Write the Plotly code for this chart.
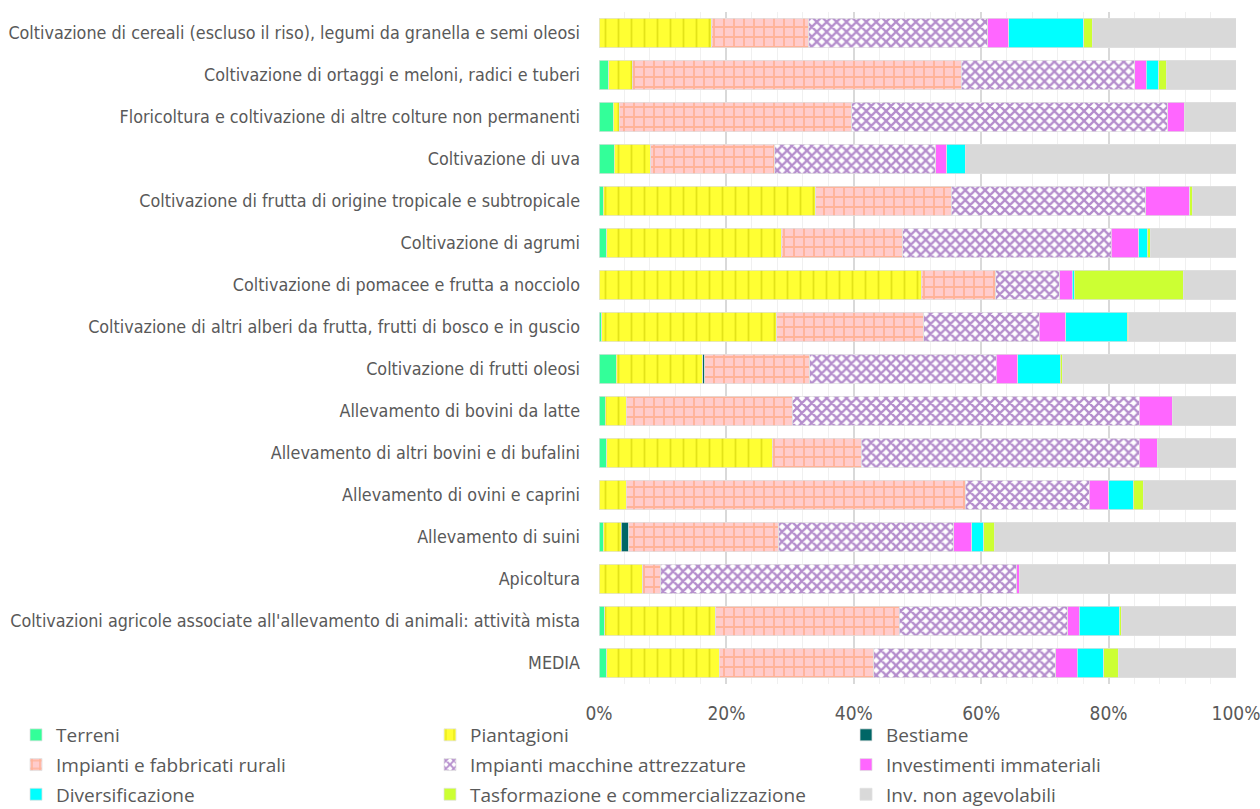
import plotly.graph_objects as go

# Settori (dall'alto verso il basso)
categorie = [
    "Coltivazione di cereali (escluso il riso), legumi da granella e semi oleosi",
    "Coltivazione di ortaggi e meloni, radici e tuberi",
    "Floricoltura e coltivazione di altre colture non permanenti",
    "Coltivazione di uva",
    "Coltivazione di frutta di origine tropicale e subtropicale",
    "Coltivazione di agrumi",
    "Coltivazione di pomacee e frutta a nocciolo",
    "Coltivazione di altri alberi da frutta, frutti di bosco e in guscio",
    "Coltivazione di frutti oleosi",
    "Allevamento di bovini da latte",
    "Allevamento di altri bovini e di bufalini",
    "Allevamento di ovini e caprini",
    "Allevamento di suini",
    "Apicoltura",
    "Coltivazioni agricole associate all'allevamento di animali: attività mista",
    "MEDIA",
]

# Quote percentuali per tipologia di investimento
terreni = [0.0, 1.5, 2.2, 2.4, 0.7, 1.2, 0.0, 0.4, 2.7, 1.0, 1.2, 0.0, 0.7, 0.0, 0.9, 1.2]
piantagioni = [17.7, 3.7, 1.0, 5.7, 33.3, 27.5, 50.6, 27.5, 13.6, 3.3, 26.0, 4.3, 2.8, 6.9, 17.4, 17.7]
bestiame = [0.0, 0.0, 0.0, 0.0, 0.0, 0.0, 0.0, 0.0, 0.3, 0.0, 0.0, 0.0, 1.2, 0.0, 0.0, 0.0]
fabbricati = [15.2, 51.7, 36.5, 19.5, 21.3, 19.0, 11.7, 23.1, 16.5, 26.0, 14.0, 53.2, 23.5, 2.8, 28.8, 24.2]
macchine = [28.1, 27.2, 49.6, 25.3, 30.5, 32.7, 10.0, 18.1, 29.3, 54.5, 43.6, 19.5, 27.5, 55.9, 26.5, 28.6]
immateriali = [3.3, 1.8, 2.6, 1.7, 6.9, 4.3, 2.0, 4.2, 3.3, 5.2, 2.9, 3.0, 2.8, 0.4, 1.8, 3.4]
diversificazione = [11.8, 2.0, 0.0, 2.9, 0.0, 1.4, 0.3, 9.6, 6.7, 0.0, 0.0, 3.9, 1.9, 0.0, 6.3, 4.1]
trasformazione = [1.3, 1.2, 0.0, 0.0, 0.5, 0.4, 17.1, 0.3, 0.3, 0.0, 0.0, 1.5, 1.7, 0.0, 0.3, 2.3]
non_agevolabili = [22.6, 10.9, 8.1, 42.5, 6.8, 13.5, 8.3, 16.8, 27.3, 10.0, 12.3, 14.6, 37.9, 34.0, 18.0, 18.5]

TEXT = "#595959"
LABEL_FONT = "Liberation Sans Narrow, DejaVu Sans Condensed, Arial Narrow, sans-serif"
LEGEND_FONT = "Open Sans, Noto Sans, sans-serif"

# (nome, valori, colore, motivo, colore motivo, dimensione, densità, legenda)
serie = [
    ("Terreni", terreni, "#33FF99", "", None, 0, 0, "legend"),
    ("Piantagioni", piantagioni, "#FFFF33", "|", "#C8C800", 13, 0.14, "legend2"),
    ("Bestiame", bestiame, "#006666", "", None, 0, 0, "legend3"),
    ("Impianti e fabbricati rurali", fabbricati, "#FFCCCC", "+", "#FF9966", 10, 0.34, "legend"),
    ("Impianti macchine attrezzature", macchine, "#FFFFFF", "x", "#6A1B9A", 7, 0.55, "legend2"),
    ("Investimenti immateriali", immateriali, "#FF66FF", "", None, 0, 0, "legend3"),
    ("Diversificazione", diversificazione, "#00FFFF", "", None, 0, 0, "legend"),
    ("Tasformazione e commercializzazione", trasformazione, "#CCFF33", "", None, 0, 0, "legend2"),
    ("Inv. non agevolabili", non_agevolabili, "#D9D9D9", "", None, 0, 0, "legend3"),
]

fig = go.Figure()
for nome, valori, colore, motivo, fg, dim, dens, leg in serie:
    pattern = dict(shape=motivo)
    if motivo:
        pattern.update(fgcolor=fg, bgcolor=colore, fillmode="overlay",
                       size=dim, solidity=dens)
    fig.add_trace(go.Bar(
        name=nome,
        y=categorie,
        x=valori,
        orientation="h",
        marker=dict(color=colore, pattern=pattern,
                    line=dict(color="#E0E0E0", width=0.75)),
        legend=leg,
        legendgroup=nome,
        hoverinfo="skip",
    ))

legend_common = dict(
    orientation="v",
    xref="container", yref="container",
    xanchor="left", yanchor="top",
    y=1 - 716 / 809,
    font=dict(family=LEGEND_FONT, size=19, color=TEXT),
    bgcolor="rgba(0,0,0,0)",
    tracegroupgap=2,
    itemclick=False,
    itemdoubleclick=False,
)

fig.update_layout(
    width=1260,
    height=809,
    barmode="stack",
    bargap=0.3,
    plot_bgcolor="white",
    paper_bgcolor="white",
    margin=dict(l=599, r=24, t=12, b=125, autoexpand=False),
    xaxis=dict(
        range=[0, 100],
        dtick=20,
        ticksuffix="%",
        showgrid=True,
        gridcolor="#D9D9D9",
        gridwidth=1.5,
        zeroline=False,
        showline=False,
        automargin=False,
        minor=dict(dtick=4, showgrid=True, gridcolor="#F0F0F0", gridwidth=1),
        tickfont=dict(family=LABEL_FONT, size=19, color=TEXT),
        ticks="",
        ticklabelstandoff=16,
        ticklabeloverflow="allow",
    ),
    yaxis=dict(
        autorange="reversed",
        automargin=False,
        tickfont=dict(family=LABEL_FONT, size=17.8, color=TEXT),
        ticks="",
        ticklabelstandoff=18,
        showgrid=False,
        showline=False,
    ),
    legend=dict(legend_common, x=16 / 1260),
    legend2=dict(legend_common, x=430 / 1260),
    legend3=dict(legend_common, x=846 / 1260),
    showlegend=True,
)

fig.write_html("out.html")
